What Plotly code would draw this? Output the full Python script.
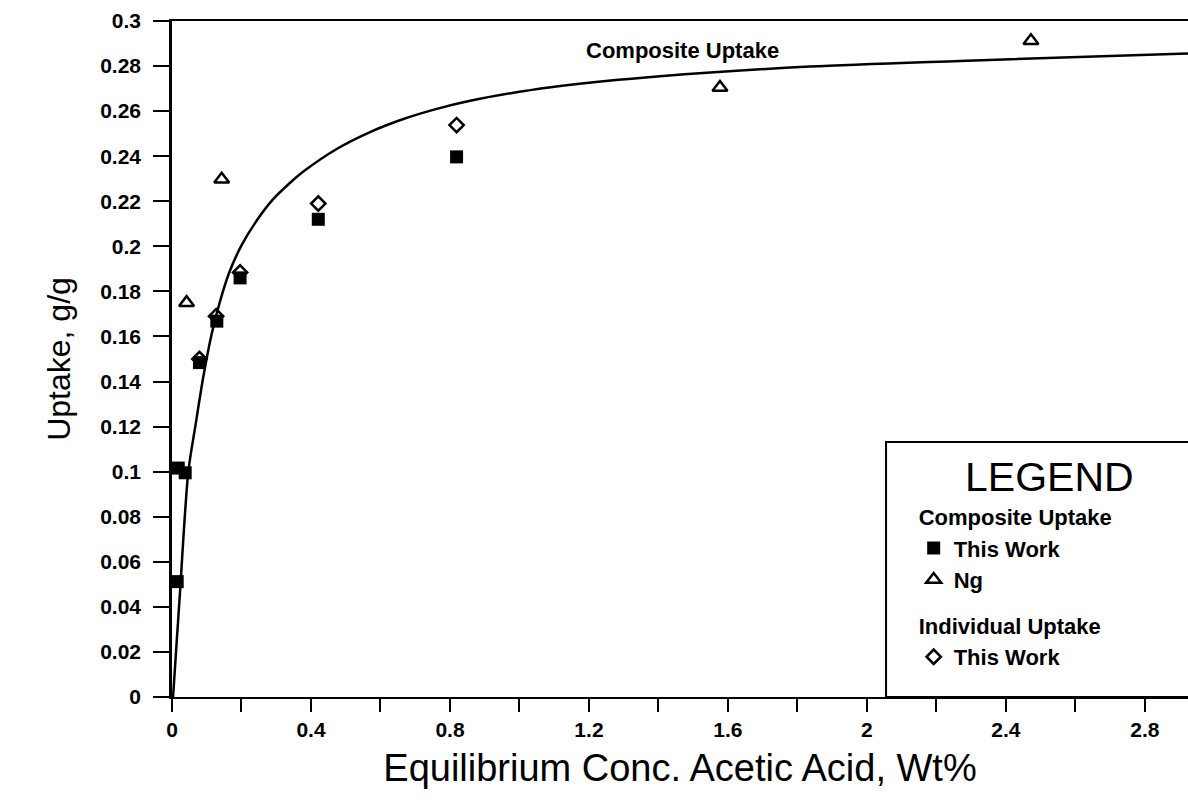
import plotly.graph_objects as go

# ---- data ----
curve_x = [0.003, 0.012, 0.022, 0.047, 0.068, 0.090, 0.114, 0.138, 0.165, 0.2, 0.245,
           0.29, 0.34, 0.38, 0.474, 0.57, 0.666, 0.762, 0.858, 1.0, 1.117, 1.404,
           1.836, 2.268, 2.924]
curve_y = [0.0, 0.021, 0.044, 0.100, 0.121, 0.142, 0.161, 0.1755, 0.1885, 0.2004, 0.2117,
           0.2207, 0.2282, 0.2334, 0.2432, 0.2507, 0.2565, 0.2610, 0.2646, 0.2686, 0.2712,
           0.2755, 0.2798, 0.2823, 0.2856]

comp_this_x = [0.015, 0.018, 0.038, 0.079, 0.129, 0.196, 0.421, 0.819]
comp_this_y = [0.0512, 0.1016, 0.0995, 0.1484, 0.1668, 0.1860, 0.2120, 0.2397]

ng_x = [0.042, 0.143, 1.577, 2.472]
ng_y = [0.175, 0.2298, 0.2705, 0.2912]

ind_this_x = [0.079, 0.127, 0.196, 0.421, 0.819]
ind_this_y = [0.1500, 0.1690, 0.1884, 0.2190, 0.2538]

x_tickvals = [0, 0.2, 0.4, 0.6, 0.8, 1.0, 1.2, 1.4, 1.6, 1.8, 2.0, 2.2, 2.4, 2.6, 2.8]
x_ticktext = ["0", "", "0.4", "", "0.8", "", "1.2", "", "1.6", "", "2", "", "2.4", "", "2.8"]
y_tickvals = [0, 0.02, 0.04, 0.06, 0.08, 0.1, 0.12, 0.14, 0.16, 0.18, 0.2, 0.22, 0.24,
              0.26, 0.28, 0.3]
y_ticktext = ["0", "0.02", "0.04", "0.06", "0.08", "0.1", "0.12", "0.14", "0.16", "0.18",
              "0.2", "0.22", "0.24", "0.26", "0.28", "0.3"]

FONT = "Liberation Sans, Arial, Helvetica, sans-serif"

fig = go.Figure()

fig.add_trace(go.Scatter(
    x=curve_x, y=curve_y, mode="lines", name="Composite Uptake curve",
    line=dict(color="black", width=2.5, shape="spline", smoothing=0.8),
    showlegend=False))

fig.add_trace(go.Scatter(
    x=comp_this_x, y=comp_this_y, mode="markers", name="This Work",
    legendgroup="comp", legendgrouptitle=dict(text="Composite Uptake",
                                              font=dict(size=22, weight="bold", family=FONT, color="black")),
    marker=dict(symbol="square", size=13, color="black")))

fig.add_trace(go.Scatter(
    x=ng_x, y=ng_y, mode="markers", name="Ng", legendgroup="comp",
    marker=dict(symbol="triangle-up-open", size=13, color="black", line=dict(width=2.5))))

fig.add_trace(go.Scatter(
    x=ind_this_x, y=ind_this_y, mode="markers", name="This Work",
    legendgroup="ind", legendgrouptitle=dict(text="Individual Uptake",
                                             font=dict(size=22, weight="bold", family=FONT, color="black")),
    marker=dict(symbol="diamond-open", size=11, color="black", line=dict(width=2.5))))

axis_common = dict(
    showline=True, linecolor="black", showgrid=False, zeroline=False,
    ticks="outside", tickcolor="black", tickwidth=2,
    tickfont=dict(family=FONT, size=21, color="black", weight="bold"),
)

fig.update_layout(
    width=1188, height=800,
    margin=dict(l=172, r=0, t=21, b=103),
    paper_bgcolor="white", plot_bgcolor="white",
    font=dict(family=FONT, color="black"),
    xaxis=dict(range=[0, 2.924], tickvals=x_tickvals, ticktext=x_ticktext,
               linewidth=2, mirror=True, ticklen=13,
               title=dict(text="Equilibrium Conc. Acetic Acid, Wt%",
                          font=dict(family=FONT, size=38, color="black"), standoff=14),
               **axis_common),
    yaxis=dict(range=[0, 0.3], tickvals=y_tickvals, ticktext=y_ticktext,
               linewidth=2.5, ticklen=16, ticklabelstandoff=8,
               title=dict(text="Uptake, g/g",
                          font=dict(family=FONT, size=32, color="black"), standoff=20),
               **axis_common),
    legend=dict(x=0.730, y=0.298, xanchor="left", yanchor="top",
                bgcolor="rgba(0,0,0,0)", borderwidth=0,
                font=dict(family=FONT, size=22, color="black", weight="bold"),
                tracegroupgap=14, groupclick="toggleitem"),
    shapes=[dict(type="rect", xref="paper", yref="paper",
                 x0=0.7028, x1=1.05, y0=0, y1=0.3772,
                 line=dict(color="black", width=2), fillcolor="rgba(0,0,0,0)")],
    annotations=[
        dict(x=1.47, y=0.2868, xref="x", yref="y", text="Composite Uptake",
             showarrow=False, font=dict(family=FONT, size=22, color="black", weight="bold")),
        dict(x=0.864, y=0.3254, xref="paper", yref="paper", text="LEGEND",
             xanchor="center", yanchor="middle", showarrow=False,
             font=dict(family=FONT, size=41, color="black")),
    ],
)

fig.write_html("out.html")
